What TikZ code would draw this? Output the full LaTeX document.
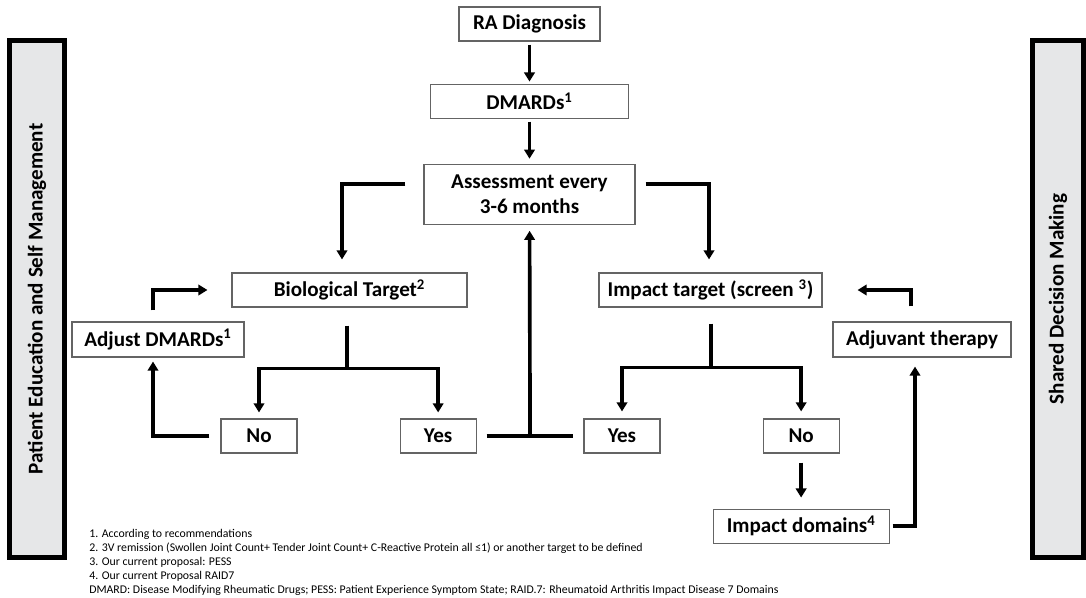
\documentclass[tikz,border=0pt]{standalone}
\usepackage{fontspec}
\setmainfont{Carlito}
\usetikzlibrary{arrows.meta, positioning, calc}
\definecolor{barfill}{RGB}{230, 231, 232}
\definecolor{boxline}{RGB}{100, 100, 100}
\newlength\pxu
\setlength\pxu{0.025cm}

\begin{document}
\begin{tikzpicture}[
  x=0.025cm, y=-0.025cm,
  node distance=42\pxu,
  box/.style={rectangle, draw=boxline, line width=0.8pt, inner sep=0pt,
              minimum height=34\pxu, align=center, font=\fontsize{15}{18}\selectfont\bfseries},
  sidebar/.style={rectangle, rotate=90, draw=black, line width=3.5pt, fill=barfill,
                  minimum width=517\pxu, font=\fontsize{15}{18}\selectfont\bfseries},
  note/.style={anchor=north west, inner sep=0pt, align=left, font=\fontsize{8.4}{9.96}\selectfont},
  line/.style={line width=2.6pt},
  arr/.style={-{Triangle[width=7.5pt, length=6.5pt]}, line width=2.6pt}
]
  \useasboundingbox (0,0) rectangle (1086,598);

  % side bars
  \node[sidebar, minimum height=55\pxu] (education) at (37,299) {Patient Education and Self Management};
  \node[sidebar, minimum height=51\pxu] (shared) at (1058,299) {Shared Decision Making};

  % main column
  \node[box, minimum width=141\pxu] (ra) at (529.5,24) {RA Diagnosis};
  \node[box, minimum width=198\pxu, below=of ra] (dmard) {DMARDs\textsuperscript{1}};
  \node[box, minimum width=211\pxu, minimum height=60\pxu, below=45\pxu of dmard] (assess) {Assessment every\\3-6 months};

  % targets
  \node[box, minimum width=235\pxu] (bio) at (349.5,290) {Biological Target\textsuperscript{2}};
  \node[box, minimum width=223\pxu] (impact) at (710.5,290) {Impact target (screen \textsuperscript{3})};
  \node[box, minimum width=172\pxu, minimum height=35\pxu] (adjust) at (158,339.5) {Adjust DMARDs\textsuperscript{1}};
  \node[box, minimum width=178\pxu, minimum height=35\pxu] (adjuvant) at (922,339.5) {Adjuvant therapy};

  % answers
  \node[box, minimum width=76\pxu] (nol) at (259,436) {No};
  \node[box, minimum width=76\pxu, right=102\pxu of nol] (yesl) {Yes};
  \node[box, minimum width=76\pxu] (yesr) at (622,436) {Yes};
  \node[box, minimum width=76\pxu, right=102\pxu of yesr] (nor) {No};
  \node[box, minimum width=176\pxu, below=55\pxu of nor] (domains) {Impact domains\textsuperscript{4}};

  % footnotes
  \node[note] (notes) at (89,529) {1. According to recommendations\\
    2. 3V remission (Swollen Joint Count+ Tender Joint Count+ C-Reactive Protein all ≤1) or another target to be defined\\
    3. Our current proposal: PESS\\
    4. Our current Proposal RAID7\\
    DMARD: Disease Modifying Rheumatic Drugs; PESS: Patient Experience Symptom State; RAID.7: Rheumatoid Arthritis Impact Disease 7 Domains};

  % connectors
  \draw[arr, shorten <=3\pxu, shorten >=2\pxu] (ra) -- (dmard);
  \draw[arr, shorten <=3\pxu, shorten >=5\pxu] (dmard) -- (assess);
  \draw[arr, shorten <=18\pxu, shorten >=13\pxu] ($(assess.west)+(0,-10)$) -| ($(bio.north)+(-7.5,0)$);
  \draw[arr, shorten <=10\pxu, shorten >=13\pxu] ($(assess.east)+(0,-10)$) -| ($(impact.north)+(-1.5,0)$);

  \coordinate (bsplit) at ($(bio.south)+(-2.5,61)$);
  \draw[line, shorten <=18\pxu] (bio.south -| bsplit) -- (bsplit);
  \draw[arr, shorten >=6\pxu] (bsplit) -| (nol);
  \draw[arr, shorten >=6\pxu] (bsplit) -| (yesl);
  \draw[arr, shorten <=11\pxu, shorten >=4\pxu] (nol.west) -| ($(adjust.south)+(-5,0)$);
  \draw[arr, shorten <=11\pxu, shorten >=24\pxu] ($(adjust.north)+(-5,0)$) |- (bio.west);

  \draw[line, shorten <=10\pxu, shorten >=10\pxu] (yesl) -- (yesr);
  \coordinate (ymid) at ($(yesl.east)!0.5!(yesr.west)$);
  \draw[arr, shorten >=6\pxu] (ymid) -- (assess);

  \coordinate (isplit) at ($(impact.south)+(0.5,60)$);
  \draw[line, shorten <=16\pxu] (impact.south -| isplit) -- (isplit);
  \draw[arr, shorten >=7\pxu] (isplit) -| (yesr);
  \draw[arr, shorten >=7\pxu] (isplit) -| (nor);
  \draw[arr, shorten <=9\pxu, shorten >=11\pxu] (nor) -- (domains);
  \draw[arr, shorten <=3\pxu, shorten >=9\pxu] (domains.east) -| ($(adjuvant.south)+(-7,0)$);
  \draw[arr, shorten <=15\pxu, shorten >=35\pxu] ($(adjuvant.north)+(-11,0)$) |- (impact.east);
\end{tikzpicture}
\end{document}
